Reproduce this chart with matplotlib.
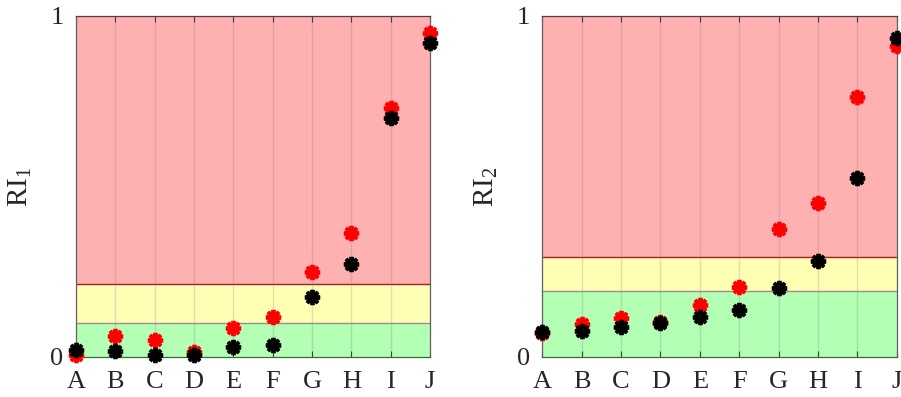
import numpy as np
import matplotlib
matplotlib.use('Agg')
import matplotlib.pyplot as plt

plt.rcParams['font.family'] = ['Liberation Serif', 'DejaVu Serif']
plt.rcParams['mathtext.fontset'] = 'custom'
plt.rcParams['mathtext.rm'] = 'Liberation Serif'

labels = ['A', 'B', 'C', 'D', 'E', 'F', 'G', 'H', 'I', 'J']

# RI_1
ri1_red = [0.005, 0.062, 0.050, 0.016, 0.084, 0.116, 0.250, 0.363, 0.729, 0.949]
ri1_black = [0.020, 0.018, 0.006, 0.006, 0.030, 0.034, 0.175, 0.272, 0.702, 0.920]
ri1_bands = [0.10, 0.215]

# RI_2
ri2_red = [0.069, 0.096, 0.113, 0.104, 0.152, 0.204, 0.374, 0.451, 0.763, 0.912]
ri2_black = [0.072, 0.076, 0.089, 0.099, 0.118, 0.138, 0.203, 0.282, 0.525, 0.935]
ri2_bands = [0.193, 0.292]

fig = plt.figure(figsize=(9.01, 3.97), dpi=100)
ax1 = fig.add_axes([0.0844, 0.1008, 0.3928, 0.8589])
ax2 = fig.add_axes([0.6019, 0.1008, 0.3933, 0.8589])

star = (8, 2, 0)


def panel(ax, red, black, bands, ylab):
    lo, hi = bands
    ax.axhspan(0, lo, facecolor='#b3ffb3', edgecolor='none', zorder=0)
    ax.axhspan(lo, hi, facecolor='#ffffb3', edgecolor='none', zorder=0)
    ax.axhspan(hi, 1, facecolor='#ffb0b0', edgecolor='none', zorder=0)
    ax.axhline(lo, color='#a08c8c', lw=1.0, zorder=1)
    ax.axhline(hi, color='#a02030', lw=1.0, zorder=1)
    x = np.arange(len(labels))
    for xi in x[1:-1]:
        ax.axvline(xi, color='#808080', alpha=0.25, lw=1.0, zorder=1)
    ax.plot(x, red, ls='none', marker=star, ms=11, mew=2.8, color='#ff0000',
            clip_on=False, zorder=3)
    ax.plot(x, black, ls='none', marker=star, ms=11, mew=2.8, color='#000000',
            clip_on=False, zorder=4)
    ax.set_xlim(0, 9)
    ax.set_ylim(0, 1)
    ax.set_xticks(x)
    ax.set_xticklabels(labels)
    ax.set_yticks([0, 1])
    ax.set_yticklabels(['0', '1'])
    ax.tick_params(axis='x', direction='in', length=4, width=0.8,
                   labelsize=19, labelcolor='#262626', color='#404040',
                   top=True, pad=10)
    ax.tick_params(axis='y', length=0, pad=9, labelsize=19, labelcolor='#262626')
    for s in ax.spines.values():
        s.set_color('#606060')
        s.set_linewidth(0.9)
    ax.spines['bottom'].set_color('#3a6a3a')
    ax.spines['top'].set_color('#5a3a3a')
    ax.set_ylabel(ylab, fontsize=21, color='#262626', labelpad=12)


panel(ax1, ri1_red, ri1_black, ri1_bands, r'$\mathrm{RI}_1$')
panel(ax2, ri2_red, ri2_black, ri2_bands, r'$\mathrm{RI}_2$')

fig.savefig('out.png', dpi=100)
